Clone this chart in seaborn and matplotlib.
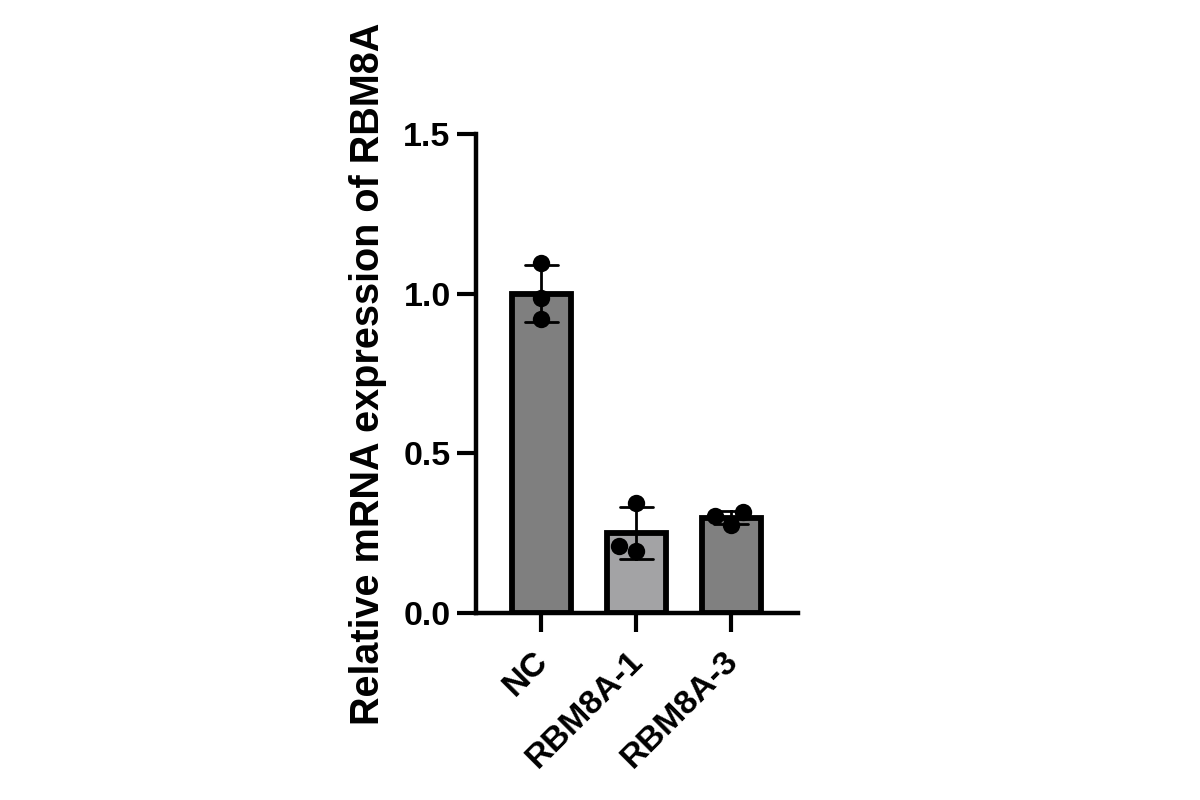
import matplotlib
matplotlib.use("Agg")
import matplotlib.pyplot as plt
import matplotlib.transforms as mtransforms
import seaborn as sns
import pandas as pd

groups = ["NC", "RBM8A-1", "RBM8A-3"]
nc_vals = [1.095, 0.985, 0.92]
r1_vals = [0.345, 0.195, 0.21]
r3_vals = [0.275, 0.315, 0.303]
bar_colors = ["#7f7f7f", "#a2a2a6", "#808080"]
yticks = [0.0, 0.5, 1.0, 1.5]
ylabel = "Relative mRNA expression of RBM8A"

sns.set_theme(style="ticks")
plt.rcParams['font.family'] = ['Liberation Sans', 'DejaVu Sans']
plt.rcParams['font.weight'] = 'bold'
plt.rcParams['text.color'] = 'black'
plt.rcParams['axes.labelcolor'] = 'black'
plt.rcParams['xtick.color'] = 'black'
plt.rcParams['ytick.color'] = 'black'

df = pd.DataFrame({
    "group": [groups[0]] * len(nc_vals) + [groups[1]] * len(r1_vals) + [groups[2]] * len(r3_vals),
    "value": nc_vals + r1_vals + r3_vals,
})

fig = plt.figure(figsize=(12, 8), dpi=100)
ax = fig.add_axes([0.397, 0.234, 0.268, 0.5985])

sns.barplot(data=df, x="group", y="value", hue="group", order=groups,
            palette=bar_colors, legend=False, errorbar="sd", capsize=0.35,
            width=0.62, linewidth=4.2, edgecolor="black",
            err_kws={"color": "black", "linewidth": 2.0}, ax=ax)

ax.set_xlim(-0.684, 2.705)
ax.set_ylim(0, 1.5)

sns.swarmplot(data=df, x="group", y="value", order=groups, color="black",
              size=12.5, ax=ax, zorder=5)

ax.set_xlim(-0.684, 2.705)
ax.set_ylim(0, 1.5)
ax.set_yticks(yticks)
ax.set_yticklabels([f"{t:.1f}" for t in yticks], fontsize=24.5, fontweight="bold")
ax.set_xticks(range(len(groups)))
ax.set_xticklabels(groups, fontsize=24.5, fontweight="bold", rotation=45,
                   ha="right", va="top", rotation_mode="anchor")
ax.set_xlabel("")
ax.set_ylabel(ylabel, fontsize=28.5, fontweight="bold", labelpad=12)

sns.despine(ax=ax)
for s in ["left", "bottom"]:
    ax.spines[s].set_linewidth(3.2)
    ax.spines[s].set_color("black")
ax.tick_params(axis="both", width=3.0, length=13.5, color="black")
ax.tick_params(axis="y", pad=5)
ax.tick_params(axis="x", pad=10)

offset = mtransforms.ScaledTranslation(-9 / 100, 0, fig.dpi_scale_trans)
for lab in ax.get_xticklabels():
    lab.set_transform(lab.get_transform() + offset)

fig.savefig("out.png", dpi=100)
